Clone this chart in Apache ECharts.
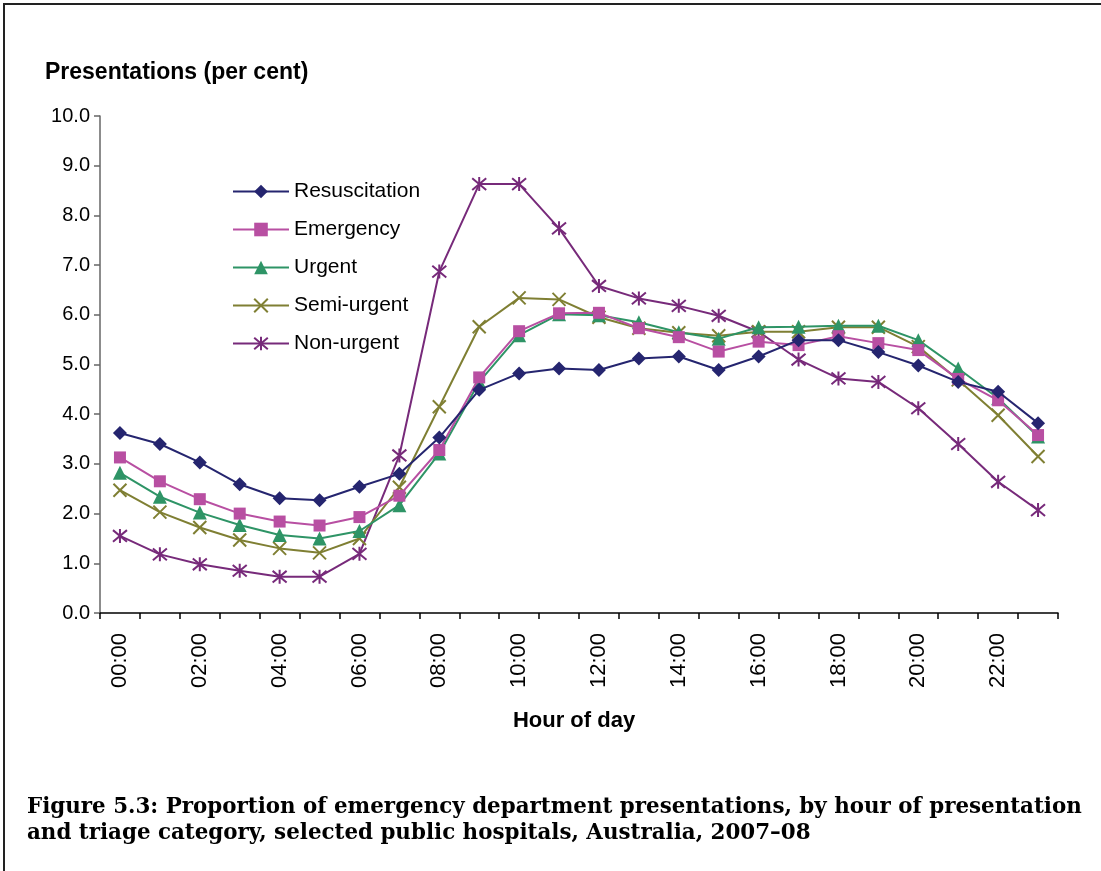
<!DOCTYPE html>
<html>
<head>
<meta charset="utf-8">
<script src="https://cdn.jsdelivr.net/npm/echarts@6/dist/echarts.min.js"></script>
<style>
html,body{margin:0;padding:0;background:#fff;}
#chart{width:1101px;height:871px;}
</style>
</head>
<body>
<div id="chart"></div>
<script>
const hours = ['00:00','01:00','02:00','03:00','04:00','05:00','06:00','07:00','08:00','09:00','10:00','11:00',
               '12:00','13:00','14:00','15:00','16:00','17:00','18:00','19:00','20:00','21:00','22:00','23:00'];
const resuscitation = [3.62,3.40,3.03,2.59,2.31,2.27,2.54,2.80,3.53,4.49,4.82,4.92,4.89,5.12,5.16,4.89,5.16,5.49,5.49,5.25,4.98,4.65,4.45,3.82];
const emergency     = [3.13,2.65,2.29,2.00,1.84,1.76,1.93,2.36,3.28,4.74,5.67,6.03,6.04,5.73,5.55,5.26,5.46,5.39,5.57,5.43,5.29,4.71,4.28,3.58];
const urgent        = [2.82,2.34,2.02,1.77,1.57,1.50,1.65,2.17,3.21,4.65,5.59,6.01,5.99,5.85,5.65,5.52,5.75,5.76,5.78,5.78,5.49,4.92,4.32,3.55];
const semiUrgent    = [2.47,2.03,1.72,1.47,1.30,1.21,1.50,2.53,4.15,5.76,6.34,6.31,5.95,5.73,5.64,5.58,5.66,5.66,5.75,5.75,5.36,4.69,3.98,3.15];
const nonUrgent     = [1.55,1.18,0.98,0.85,0.73,0.73,1.19,3.17,6.87,8.63,8.63,7.74,6.58,6.33,6.18,5.98,5.66,5.10,4.72,4.65,4.12,3.40,2.64,2.07];
const seriesNames = ['Resuscitation','Emergency','Urgent','Semi-urgent','Non-urgent'];
const yTicks = [0,1,2,3,4,5,6,7,8,9,10];

const colors = ['#25256F','#B84FA2','#2E9466','#7F7F33','#772A7A'];
const CROSS = 'path://M0,0L10,10M10,0L0,10';
const STAR = 'path://M0,0L10,10M10,0L0,10M5,-1L5,11';
const symbols = ['diamond','rect','triangle',CROSS,STAR];
const symSizes = [14,12,14,13,14];
const dataSets = [resuscitation, emergency, urgent, semiUrgent, nonUrgent];

const chart = echarts.init(document.getElementById('chart'), null, {renderer:'canvas'});

const series = seriesNames.map((name,i)=>({
  name: name,
  type: 'line',
  data: dataSets[i],
  symbol: symbols[i],
  symbolSize: symSizes[i],
  showAllSymbol: true,
  z: 10 - i,
  lineStyle: {color: colors[i], width: 2},
  itemStyle: i>=3 ? {color: colors[i], borderColor: colors[i], borderWidth: 2}
                  : {color: colors[i], borderColor: colors[i], borderWidth: 0},
  emphasis: {disabled: true},
  animation: false
}));

chart.setOption({
  animation: false,
  backgroundColor: '#fff',
  textStyle: {fontFamily: '"Liberation Sans", Arial, sans-serif'},
  grid: {left: 100, right: 43, top: 116, bottom: 258, containLabel: false},
  legend: {
    orient: 'vertical',
    left: 227,
    top: 176,
    itemWidth: 56,
    itemHeight: 17,
    itemGap: 17,
    data: seriesNames,
    textStyle: {fontSize: 21, color: '#000', fontFamily: '"Liberation Sans", Arial, sans-serif'},
    selectedMode: false
  },
  xAxis: {
    type: 'category',
    data: hours,
    boundaryGap: true,
    name: 'Hour of day',
    nameLocation: 'middle',
    nameGap: 97,
    nameTextStyle: {fontSize: 22, fontWeight: 'bold', color: '#000', padding: [0,10,0,0]},
    axisLine: {lineStyle: {color: '#000', width: 1.5}},
    axisTick: {show: true, interval: 0, alignWithLabel: false, length: 6, lineStyle: {color: '#000', width: 1.5}},
    axisLabel: {interval: 1, rotate: 90, fontSize: 22, color: '#000', margin: 20},
    splitLine: {show: false}
  },
  yAxis: {
    type: 'value',
    min: yTicks[0],
    max: yTicks[yTicks.length-1],
    interval: 1,
    name: 'Presentations (per cent)',
    nameLocation: 'end',
    nameGap: 43,
    nameTextStyle: {fontSize: 23, fontWeight: 'bold', color: '#000', align: 'left', verticalAlign: 'middle', padding: [0,0,0,-55]},
    axisLine: {show: true, lineStyle: {color: '#666', width: 1.5}},
    axisTick: {show: true, length: 6, lineStyle: {color: '#666', width: 1.5}},
    axisLabel: {fontSize: 20, color: '#000', margin: 10, formatter: v => v.toFixed(1)},
    splitLine: {show: false}
  },
  graphic: [
    {type: 'rect', shape: {x: 4, y: 4, width: 1200, height: 1000}, style: {fill: 'none', stroke: '#222', lineWidth: 2}, silent: true},
    {type: 'text', left: 27, top: 794, style: {
      text: 'Figure 5.3: Proportion of emergency department presentations, by hour of presentation\nand triage category, selected public hospitals, Australia, 2007\u201308',
      font: 'bold 21.4px "DejaVu Serif", "Liberation Serif", serif', fill: '#000', lineHeight: 26}}
  ],
  series: series
});
</script>
</body>
</html>
